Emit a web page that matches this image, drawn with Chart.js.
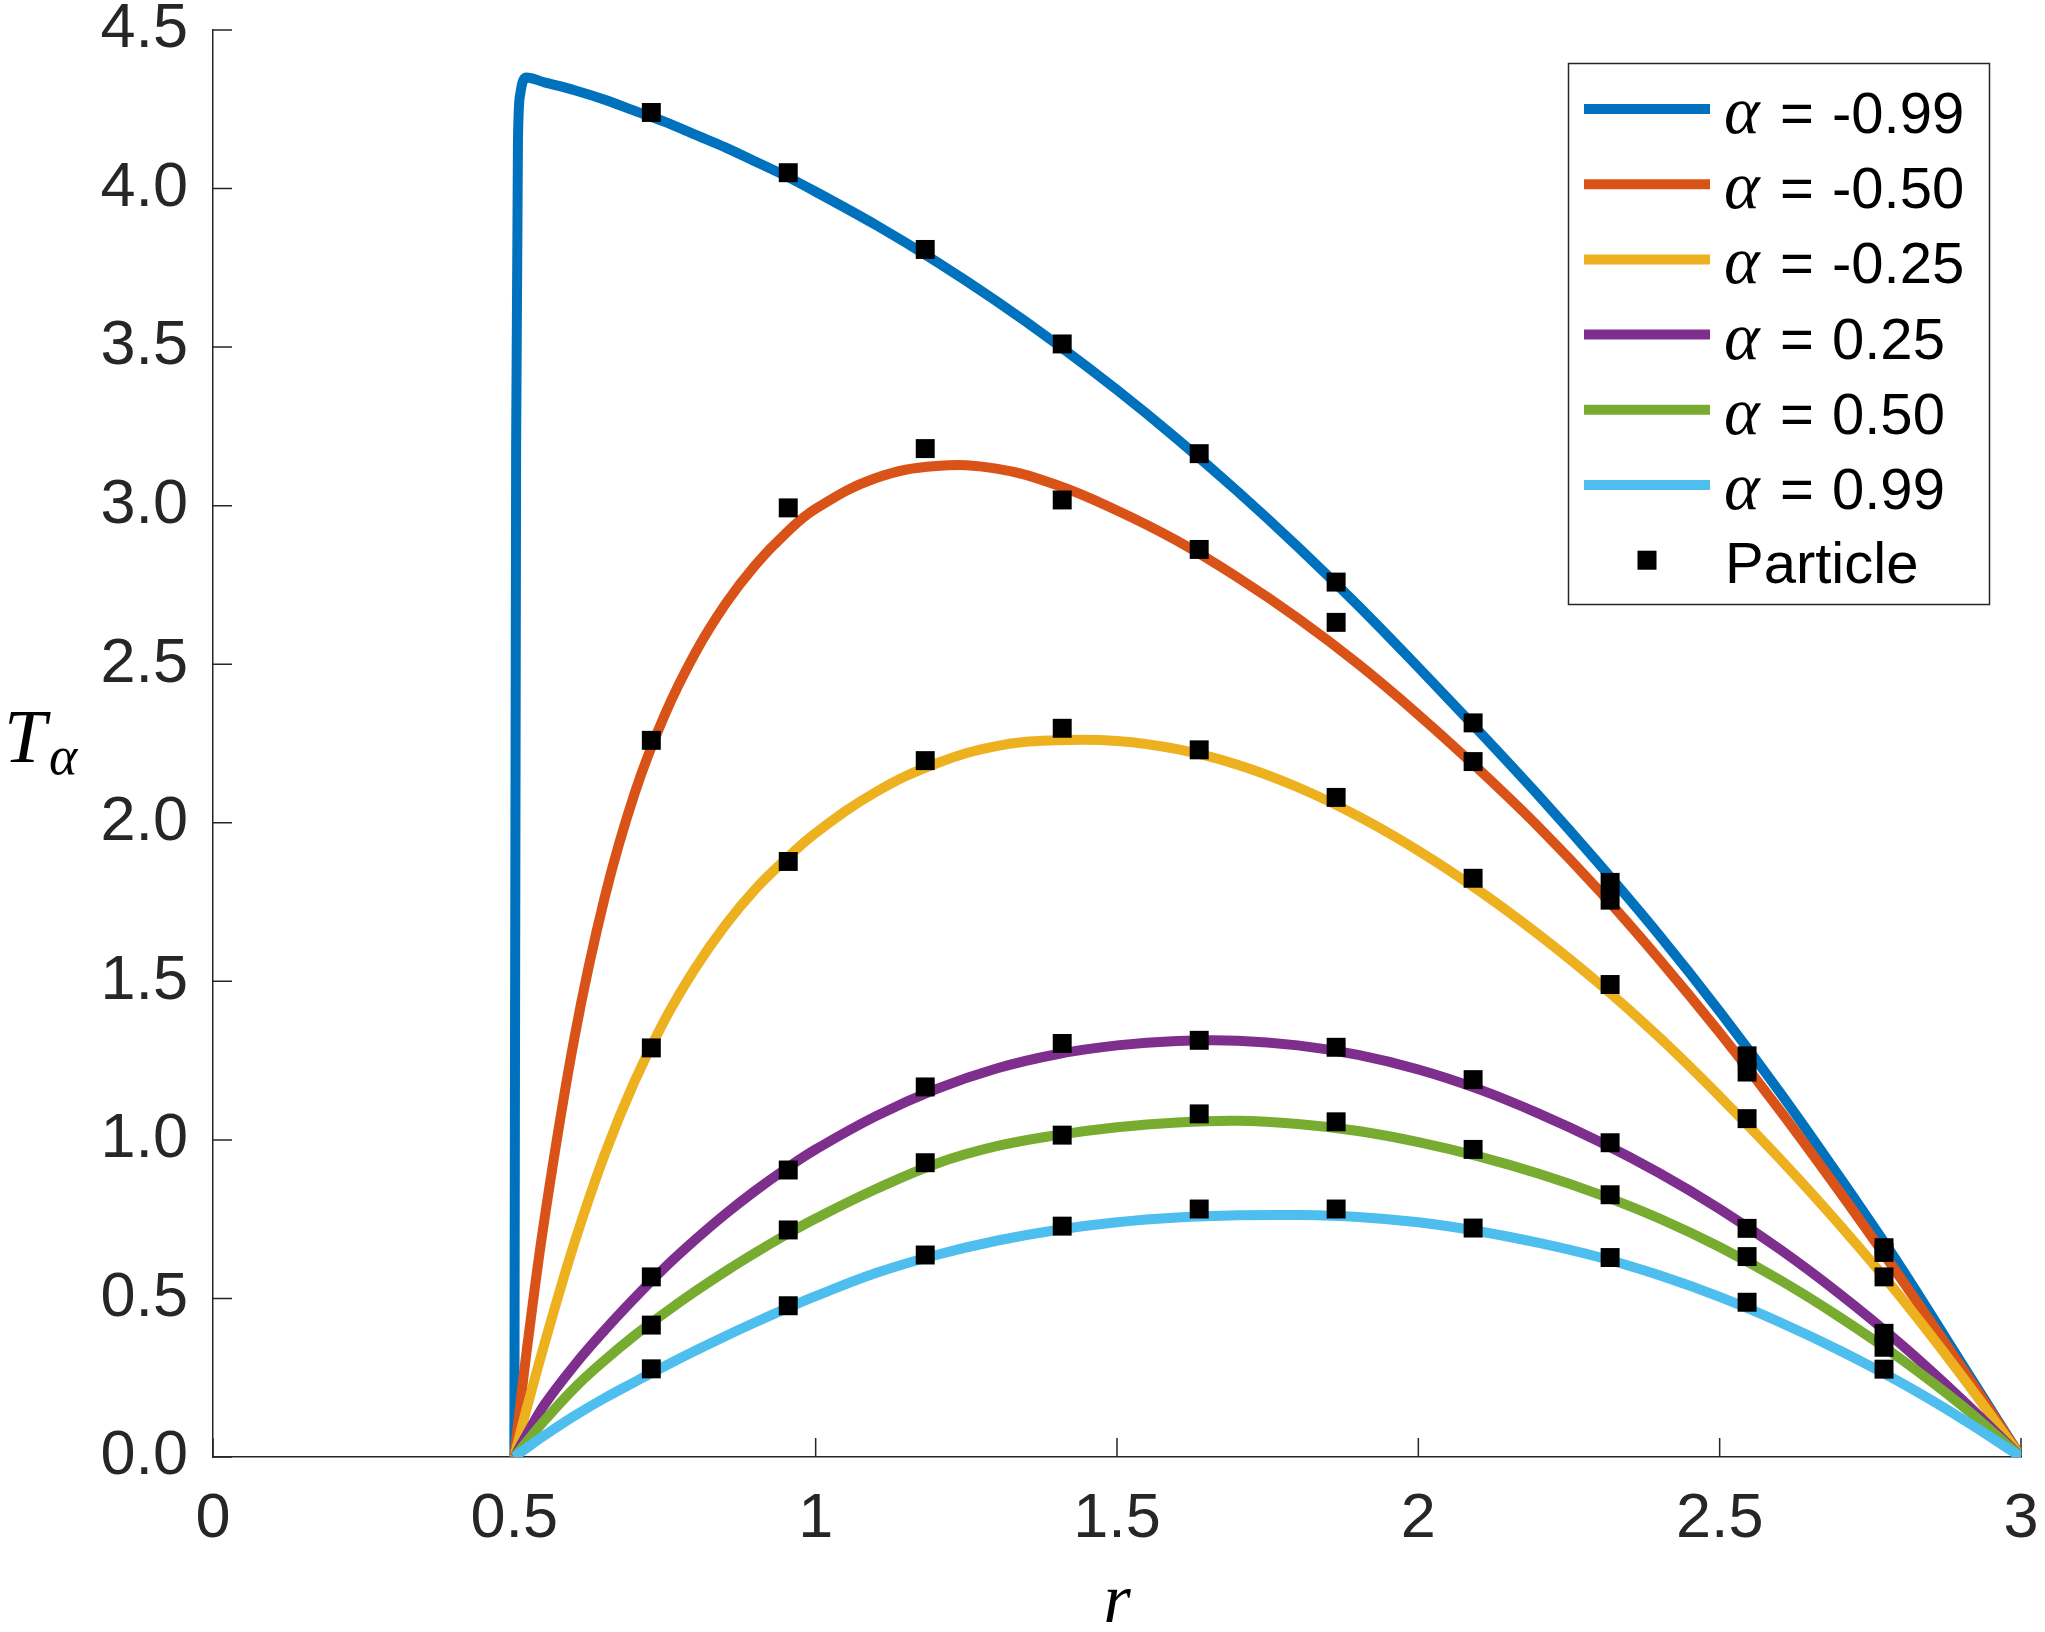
<!DOCTYPE html>
<html><head><meta charset="utf-8">
<script src="https://cdn.jsdelivr.net/npm/chart.js@4.4.1/dist/chart.umd.min.js"></script>
<style>html,body{margin:0;padding:0;background:#fff;}#wrap{width:2045px;height:1632px;position:relative;}</style>
</head><body><div id="wrap"><canvas id="c"></canvas></div>
<script>
// ---- data ----
const curveR = [0.5, 0.503, 0.506, 0.51, 0.52, 0.55, 0.6, 0.65, 0.7, 0.75, 0.8, 0.85, 0.9, 0.95, 1.0, 1.1, 1.2, 1.3, 1.4, 1.5, 1.6, 1.7, 1.8, 1.9, 2.0, 2.1, 2.2, 2.3, 2.4, 2.5, 2.6, 2.7, 2.8, 2.9, 3.0];
const tAlphaM099 = [0, 3.2, 4.15, 4.3, 4.35, 4.335, 4.31, 4.28, 4.245, 4.21, 4.17, 4.13, 4.085, 4.04, 3.99, 3.885, 3.77, 3.645, 3.51, 3.365, 3.21, 3.045, 2.87, 2.685, 2.49, 2.29, 2.085, 1.87, 1.645, 1.405, 1.15, 0.88, 0.60, 0.30, 0];
const tAlphaM050 = [0, 0.051, 0.101, 0.167, 0.327, 0.75, 1.325, 1.765, 2.095, 2.342, 2.535, 2.689, 2.813, 2.912, 2.99, 3.087, 3.125, 3.117, 3.065, 2.985, 2.889, 2.774, 2.645, 2.501, 2.341, 2.169, 1.986, 1.786, 1.569, 1.338, 1.093, 0.834, 0.565, 0.287, 0];
const tAlphaM025 = [0, 0.0225, 0.045, 0.075, 0.149, 0.357, 0.677, 0.955, 1.187, 1.38, 1.541, 1.677, 1.791, 1.884, 1.968, 2.097, 2.187, 2.242, 2.26, 2.258, 2.232, 2.183, 2.112, 2.021, 1.912, 1.787, 1.647, 1.493, 1.323, 1.137, 0.94, 0.73, 0.505, 0.26, 0];
const tAlphaP025 = [0, 0.01, 0.02, 0.034, 0.068, 0.165, 0.29, 0.40, 0.502, 0.598, 0.685, 0.766, 0.84, 0.908, 0.97, 1.075, 1.16, 1.225, 1.27, 1.298, 1.312, 1.313, 1.298, 1.268, 1.222, 1.16, 1.083, 0.995, 0.895, 0.782, 0.655, 0.513, 0.357, 0.185, 0];
const tAlphaP050 = [0, 0.007, 0.014, 0.023, 0.047, 0.115, 0.218, 0.305, 0.384, 0.455, 0.522, 0.585, 0.644, 0.70, 0.752, 0.845, 0.925, 0.98, 1.015, 1.04, 1.055, 1.06, 1.05, 1.028, 0.993, 0.948, 0.893, 0.828, 0.752, 0.662, 0.558, 0.44, 0.31, 0.165, 0];
const tAlphaP099 = [0, 0.004, 0.008, 0.014, 0.028, 0.068, 0.13, 0.186, 0.237, 0.287, 0.335, 0.381, 0.425, 0.467, 0.507, 0.58, 0.637, 0.682, 0.716, 0.74, 0.755, 0.762, 0.763, 0.757, 0.74, 0.712, 0.675, 0.63, 0.573, 0.505, 0.425, 0.335, 0.235, 0.123, 0];

const particleR = [0.7273, 0.9545, 1.1818, 1.4091, 1.6364, 1.8636, 2.0909, 2.3182, 2.5455, 2.7727];
const pAlphaM099 = [4.24, 4.05, 3.808, 3.51, 3.164, 2.759, 2.315, 1.812, 1.265, 0.66];
const pAlphaM050 = [2.26, 2.993, 3.18, 3.018, 2.862, 2.632, 2.193, 1.756, 1.214, 0.645];
const pAlphaM025 = [1.29, 1.878, 2.196, 2.298, 2.23, 2.08, 1.825, 1.49, 1.067, 0.568];
const pAlphaP025 = [0.568, 0.905, 1.167, 1.304, 1.314, 1.292, 1.19, 0.991, 0.721, 0.39];
const pAlphaP050 = [0.416, 0.716, 0.928, 1.015, 1.082, 1.057, 0.97, 0.827, 0.632, 0.346];
const pAlphaP099 = [0.278, 0.477, 0.637, 0.728, 0.782, 0.782, 0.722, 0.629, 0.488, 0.277];

const alphaLabels = ['-0.99', '-0.50', '-0.25', '0.25', '0.50', '0.99'];
const particleLabel = 'Particle';
const xTicks = [0, 0.5, 1, 1.5, 2, 2.5, 3];
const yTicks = [0, 0.5, 1, 1.5, 2, 2.5, 3, 3.5, 4, 4.5];
const xTitle = 'r';
const yTitleMain = 'T';
const yTitleSub = 'α';

// ---- styles ----
const colors = ['#0072BD', '#D95319', '#EDB120', '#7E2F8E', '#77AC30', '#4DBEEE'];
const curves = [tAlphaM099, tAlphaM050, tAlphaM025, tAlphaP025, tAlphaP050, tAlphaP099];
const particles = [pAlphaM099, pAlphaM050, pAlphaM025, pAlphaP025, pAlphaP050, pAlphaP099];
const AX = '#262626';
const SANS = '"Liberation Sans", Arial, Helvetica, sans-serif';
const SERIF = '"Liberation Serif", "Times New Roman", serif';

const datasets = [];
curves.forEach((arr, i) => {
  datasets.push({
    label: 'α = ' + alphaLabels[i],
    data: curveR.map((r, j) => ({x: r, y: arr[j]})),
    borderColor: colors[i], backgroundColor: colors[i],
    borderWidth: 10, pointRadius: 0, fill: false,
    cubicInterpolationMode: i === 0 ? 'monotone' : 'default',
    tension: i === 0 ? 0 : 0.4,
    borderCapStyle: 'butt', borderJoinStyle: 'round',
    order: 6 - i
  });
});
particles.forEach((arr, i) => {
  datasets.push({
    label: particleLabel,
    data: particleR.map((r, j) => ({x: r, y: arr[j]})),
    showLine: false, pointStyle: 'rect', pointRadius: 13.4, pointBorderWidth: 0,
    pointBackgroundColor: '#000', backgroundColor: '#000', borderColor: '#000',
    order: 0
  });
});

const zeroPad = s => { s.paddingTop = 0; s.paddingBottom = 0; s.paddingLeft = 0; s.paddingRight = 0; };

const overlay = {
  id: 'overlay',
  beforeDatasetsDraw(chart) {
    const ctx = chart.ctx, xs = chart.scales.x, ys = chart.scales.y, a = chart.chartArea;
    ctx.save();
    ctx.strokeStyle = AX; ctx.lineWidth = 1.5;
    ctx.beginPath();
    xTicks.forEach(v => { const p = xs.getPixelForValue(v); ctx.moveTo(p, a.bottom); ctx.lineTo(p, a.bottom - 19); });
    yTicks.forEach(v => { const p = ys.getPixelForValue(v); ctx.moveTo(a.left, p); ctx.lineTo(a.left + 19, p); });
    ctx.stroke();
    ctx.restore();
  },
  afterDraw(chart) {
    const ctx = chart.ctx, a = chart.chartArea;
    ctx.save();
    // legend box
    const bx = 1568.5, by = 63.5, bw = 421, bh = 541;
    ctx.fillStyle = '#fff'; ctx.fillRect(bx, by, bw, bh);
    ctx.strokeStyle = AX; ctx.lineWidth = 1.5; ctx.strokeRect(bx, by, bw, bh);
    const rowY0 = 109, rowStep = 75.2;
    ctx.textAlign = 'left'; ctx.textBaseline = 'alphabetic';
    alphaLabels.forEach((lab, i) => {
      const y = rowY0 + i * rowStep;
      ctx.strokeStyle = colors[i]; ctx.lineWidth = 10; ctx.lineCap = 'butt';
      ctx.beginPath(); ctx.moveTo(1584, y); ctx.lineTo(1710, y); ctx.stroke();
      ctx.fillStyle = '#000';
      ctx.font = 'italic 68px ' + SERIF; ctx.fillText('α', 1724, y + 24);
      ctx.font = '58px ' + SANS; ctx.fillText('=', 1780, y + 24);
      ctx.fillText(lab, 1832, y + 24);
    });
    const py = rowY0 + 6 * rowStep;
    ctx.fillStyle = '#000'; ctx.fillRect(1647 - 9.5, py - 9.5, 19, 19);
    ctx.font = '58px ' + SANS; ctx.fillText(particleLabel, 1725, py + 23);
    // axis titles
    ctx.fillStyle = '#000';
    ctx.font = 'italic 76px ' + SERIF; ctx.fillText(yTitleMain, 4, 762);
    ctx.font = 'italic 54px ' + SERIF; ctx.fillText(yTitleSub, 49, 774);
    ctx.textAlign = 'center';
    ctx.font = 'italic 70px ' + SERIF; ctx.fillText(xTitle, (a.left + a.right) / 2, 1622);
    ctx.restore();
  }
};

new Chart(document.getElementById('c'), {
  type: 'line',
  data: {datasets},
  options: {
    responsive: true, maintainAspectRatio: false, animation: false, devicePixelRatio: 1,
    layout: {autoPadding: false, padding: {top: 30, right: 24, left: 0, bottom: 0}},
    plugins: {legend: {display: false}, tooltip: {enabled: false}},
    scales: {
      x: {
        type: 'linear', min: 0, max: 3,
        afterBuildTicks: s => { s.ticks = xTicks.map(v => ({value: v})); },
        afterFit: s => { s.height = 175; zeroPad(s); },
        ticks: {font: {family: SANS, size: 63}, color: AX, padding: 25, maxRotation: 0, autoSkip: false,
                callback: v => String(v)},
        grid: {display: true, drawOnChartArea: false, drawTicks: false, color: AX},
        border: {display: true, color: AX, width: 1.5}
      },
      y: {
        type: 'linear', min: 0, max: 4.5,
        afterBuildTicks: s => { s.ticks = yTicks.map(v => ({value: v})); },
        afterFit: s => { s.width = 213; zeroPad(s); },
        ticks: {font: {family: SANS, size: 63}, color: AX, padding: 25, autoSkip: false,
                callback: v => Number(v).toFixed(1)},
        grid: {display: true, drawOnChartArea: false, drawTicks: false, color: AX},
        border: {display: true, color: AX, width: 1.5}
      }
    }
  },
  plugins: [overlay]
});
</script></body></html>
